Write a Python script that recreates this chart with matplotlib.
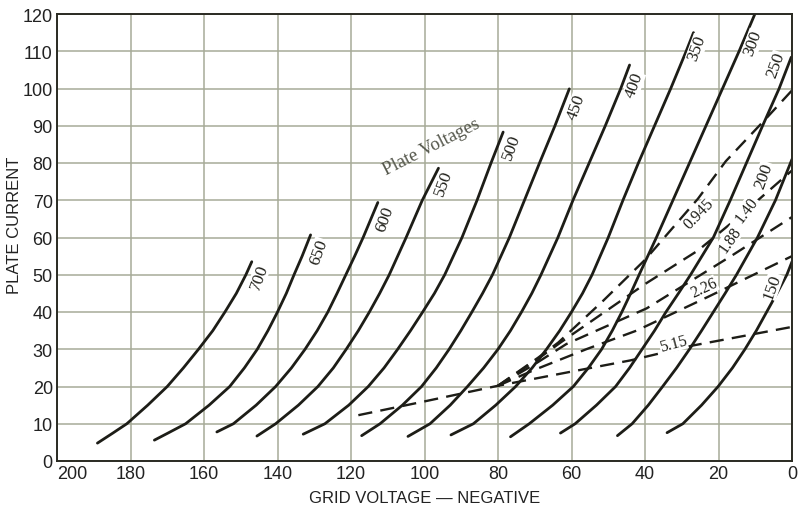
import matplotlib
matplotlib.use("Agg")
import matplotlib.pyplot as plt

# ---------------- data (grid voltage, negative ; plate current) ----------------
plate_voltages = [700, 650, 600, 550, 500, 450, 400, 350, 300, 250, 200, 150]

eg_700 = [189, 184.8, 181, 175.3, 170, 165.6, 161.5, 157.6, 154.3, 151.2, 148.6, 147]
ip_700 = [4.8, 7.5, 10, 15, 20, 25, 30, 35, 40, 45, 50, 53.5]

eg_650 = [173.5, 169.8, 165, 158.6, 153, 149, 145.5, 142.6, 140, 137.6, 135.5, 133.3, 131]
ip_650 = [5.6, 7.5, 10, 15, 20, 25, 30, 35, 40, 45, 50, 55, 60.7]

eg_600 = [156.5, 152, 145.8, 140.5, 136.2, 132.5, 129.2, 126.3, 123.8, 121.4, 119, 116.7, 112.7]
ip_600 = [7.8, 10, 15, 20, 25, 30, 35, 40, 45, 50, 55, 60, 69.4]

eg_550 = [145.6, 140.5, 134.3, 129, 124.8, 121.3, 118, 115, 112.2, 109.6, 105, 100.6, 96.2]
ip_550 = [6.7, 10, 15, 20, 25, 30, 35, 40, 45, 50, 60, 70, 78.6]

eg_500 = [133, 127.1, 120.6, 115.3, 111, 107.3, 103.8, 100.5, 97.3, 94.5, 89.8, 85.7, 81.9, 78.6]
ip_500 = [7.2, 10, 15, 20, 25, 30, 35, 40, 45, 50, 60, 70, 80, 88.3]

eg_450 = [117.1, 112.1, 106, 100.8, 96.8, 93.3, 90.1, 87.1, 84.2, 81.5, 76.9, 72.8, 68.7, 64.5, 60.6]
ip_450 = [6.8, 10, 15, 20, 25, 30, 35, 40, 45, 50, 60, 70, 80, 90, 99.9]

eg_400 = [104.5, 98.5, 93, 88.3, 83.9, 80, 76.6, 73.6, 70.8, 68.3, 63.7, 59.6, 55.2, 50.8, 46.6, 44.2]
ip_400 = [6.6, 10, 15, 20, 25, 30, 35, 40, 45, 50, 60, 70, 80, 90, 100, 106.3]

eg_350 = [92.8, 86.7, 80.6, 75.2, 70.7, 66.8, 63.2, 60, 57, 54.4, 50, 46, 41.8, 37.4, 33, 28.8, 26.8]
ip_350 = [7, 10, 15, 20, 25, 30, 35, 40, 45, 50, 60, 70, 80, 90, 100, 110, 115]

eg_300 = [76.6, 71.5, 65.1, 59.5, 55.4, 51.8, 48.9, 46.3, 43.9, 41.6, 36.9, 32.4, 27.9, 23.4,
          18.9, 14.4, 10.1, 9.2]
ip_300 = [6.5, 10, 15, 20, 25, 30, 35, 40, 45, 50, 60, 70, 80, 90, 100, 110, 120, 122]

eg_250 = [63, 59, 53.2, 48, 44.2, 40.8, 37.4, 34.3, 30.9, 27.6, 21.4, 16.8, 12.4, 8, 3.5, 0.2]
ip_250 = [7.5, 10, 15, 20, 25, 30, 35, 40, 45, 50, 60, 70, 80, 90, 100, 108.4]

eg_200 = [47.5, 43.5, 39.1, 35.2, 31.4, 27.9, 24.6, 21.4, 18.2, 15.1, 9.4, 4.5, 0]
ip_200 = [6.8, 10, 15, 20, 25, 30, 35, 40, 45, 50, 60, 70, 81]

eg_150 = [34, 29.7, 24.6, 20.1, 16.2, 12.8, 9.7, 6.9, 4.1, 1.4, 0]
ip_150 = [7.6, 10, 15, 20, 25, 30, 35, 40, 45, 50, 53.5]

# load lines (dashed)
load_labels = ["0.945", "1.40", "1.88", "2.26", "5.15"]
eg_0945 = [80, 69, 63.6, 51.4, 40, 25.6, 18, 7, 0]
ip_0945 = [20.2, 27.8, 31.8, 43, 54, 70.4, 80.5, 92, 99.5]
eg_140 = [80, 69, 62.7, 40, 25.6, 13.9, 0]
ip_140 = [20.2, 27.5, 32, 47.5, 56.5, 66, 78]
eg_188 = [80, 70, 61.4, 39.5, 16.6, 0]
ip_188 = [20.2, 26, 31.4, 41, 55, 65.5]
eg_226 = [80, 70, 56, 42.3, 23, 0]
ip_226 = [20.2, 24.5, 30, 35, 44, 55]
eg_515 = [118, 100, 80, 60, 44, 27, 0]
ip_515 = [12.3, 16, 20.2, 24, 27, 31, 36]

x_ticks = [200, 180, 160, 140, 120, 100, 80, 60, 40, 20, 0]
y_ticks = [0, 10, 20, 30, 40, 50, 60, 70, 80, 90, 100, 110, 120]

# ---------------- drawing ----------------
INK = "#1d1d17"
GRIDC = "#a7ab98"
sans = ["Liberation Sans", "DejaVu Sans"]
serif = ["Liberation Serif", "DejaVu Serif"]

fig = plt.figure(figsize=(8, 5.1), dpi=100)
ax = fig.add_axes([57 / 800, 1 - 462 / 510, 735 / 800, 447 / 510])
ax.set_xlim(200, 0)
ax.set_ylim(0, 120)
ax.set_xticks(x_ticks)
ax.set_yticks(y_ticks)
ax.grid(True, color=GRIDC, lw=1.1)
ax.set_axisbelow(True)
ax.tick_params(length=0, pad=3)
for lab in ax.get_xticklabels() + ax.get_yticklabels():
    lab.set_family(sans)
    lab.set_fontsize(13)
    lab.set_color("#222222")
# first x label sits just right of the corner, as in the original
ax.xaxis.get_major_ticks()[0].label1.set_horizontalalignment("left")
for sp in ax.spines.values():
    sp.set_color("#2a2a22")
    sp.set_linewidth(1.4)

curves = {
    700: (eg_700, ip_700), 650: (eg_650, ip_650), 600: (eg_600, ip_600),
    550: (eg_550, ip_550), 500: (eg_500, ip_500), 450: (eg_450, ip_450),
    400: (eg_400, ip_400), 350: (eg_350, ip_350), 300: (eg_300, ip_300),
    250: (eg_250, ip_250), 200: (eg_200, ip_200), 150: (eg_150, ip_150),
}
for pv in plate_voltages:
    v, i = curves[pv]
    ax.plot(v, i, color=INK, lw=2.0, solid_capstyle="round", solid_joinstyle="round")

loads = {"0.945": (eg_0945, ip_0945), "1.40": (eg_140, ip_140), "1.88": (eg_188, ip_188),
         "2.26": (eg_226, ip_226), "5.15": (eg_515, ip_515)}
for key in load_labels:
    v, i = loads[key]
    ax.plot(v, i, color=INK, lw=1.7, dashes=(6, 3.5))

# plate-voltage labels
pv_label_pos = {
    700: (145.0, 49.5), 650: (128.8, 56.3), 600: (110.7, 65.0), 550: (94.7, 74.7),
    500: (76.4, 84.4), 450: (58.7, 95.1), 400: (43.0, 101.0), 350: (25.8, 110.9),
    300: (10.6, 112.3), 250: (4.3, 106.4), 200: (7.6, 76.8), 150: (5.4, 47.0),
}
for pv in plate_voltages:
    x, y = pv_label_pos[pv]
    ax.text(x, y, str(pv), rotation=70, ha="center", va="center", fontsize=12.5,
            family=serif, color=INK,
            bbox=dict(facecolor="white", edgecolor="none", pad=0.1))

load_label_pos = {"0.945": (25.2, 66.5, 46), "1.40": (12.3, 67.6, 53),
                  "1.88": (16.9, 59.6, 55), "2.26": (24, 46.5, 25), "5.15": (32.3, 31.5, 15)}
for key in load_labels:
    x, y, r = load_label_pos[key]
    ax.text(x, y, key, rotation=r, ha="center", va="center", fontsize=11.5,
            family=serif, color=INK,
            bbox=dict(facecolor="white", edgecolor="none", pad=0.1))

ax.text(98, 84.5, "Plate Voltages", rotation=27, ha="center", va="center",
        fontsize=13.5, family=serif, color="#55574c")

ax.set_xlabel("GRID VOLTAGE — NEGATIVE", family=sans, fontsize=12, color="#222222")
ax.xaxis.set_label_coords(0.5, -0.064)
ax.set_ylabel("PLATE CURRENT", family=sans, fontsize=12, color="#222222")
ax.yaxis.set_label_coords(-0.047, 0.53)

fig.savefig("out.png", dpi=100)
